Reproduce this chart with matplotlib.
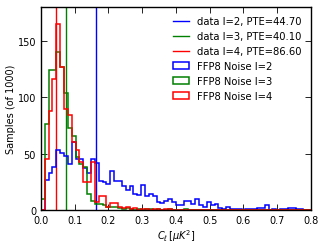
import numpy as np
import matplotlib
matplotlib.use("Agg")
import matplotlib.pyplot as plt

bin_edges = np.linspace(0.0, 0.8, 71)

counts_l2 = [0, 27, 33, 38, 53, 51, 48, 41, 60, 45, 45, 37, 33, 45, 42, 26, 25, 23, 35, 26,
             26, 21, 18, 21, 14, 13, 22, 12, 14, 12, 7, 6, 8, 10, 7, 4, 4, 8, 8, 5,
             10, 4, 3, 7, 4, 5, 2, 1, 3, 1, 1, 1, 0, 1, 1, 1, 2, 2, 4, 0,
             1, 0, 1, 1, 2, 2, 1, 1, 0, 0]
counts_l3 = [10, 76, 124, 124, 140, 127, 104, 73, 66, 47, 41, 38, 14, 8, 5, 5, 4, 3, 3, 3,
             2, 1, 2, 1, 0, 1, 0, 1, 1, 0, 1, 0, 0, 1, 0, 0, 0, 1, 0, 0,
             0, 0, 0, 0, 0, 0, 0, 0, 0, 0, 0, 0, 0, 0, 0, 0, 0, 0, 0, 0,
             0, 0, 0, 0, 0, 0, 0, 0, 0, 0]
counts_l4 = [0, 45, 88, 116, 165, 127, 90, 84, 60, 53, 43, 25, 25, 43, 7, 12, 12, 3, 6, 6,
             3, 2, 3, 1, 2, 0, 1, 1, 0, 1, 1, 0, 1, 1, 0, 0, 0, 0, 0, 0,
             0, 0, 0, 0, 0, 0, 0, 0, 0, 0, 0, 0, 0, 0, 0, 0, 0, 0, 0, 0,
             0, 0, 0, 0, 0, 0, 0, 0, 0, 0]

data_values = [0.164, 0.075, 0.0435]
pte_values = [44.70, 40.10, 86.60]
multipoles = [2, 3, 4]
colors = ['b', 'g', 'r']

fig = plt.figure(figsize=(3.27, 2.53), dpi=100)
ax = fig.add_axes([0.125, 0.166, 0.826, 0.802])

for ell, val, pte, c in zip(multipoles, data_values, pte_values, colors):
    ax.axvline(val, color=c, lw=1.0, label='data l=%d, PTE=%.2f' % (ell, pte))

centers = 0.5 * (bin_edges[:-1] + bin_edges[1:])
for ell, cnt, c in zip(multipoles, [counts_l2, counts_l3, counts_l4], colors):
    ax.hist(centers, bins=bin_edges, weights=cnt, histtype='step', color=c, lw=1.1,
            label='FFP8 Noise l=%d' % ell)

ax.set_xlim(0, 0.8)
ax.set_ylim(0, 180)
ax.set_xticks(np.arange(0, 0.81, 0.1))
ax.set_xticklabels(['%.1f' % v for v in np.arange(0, 0.81, 0.1)])
ax.set_yticks([0, 50, 100, 150])
ax.tick_params(direction='in', top=True, right=True, labelsize=7, length=4, width=0.6)
for s in ax.spines.values():
    s.set_linewidth(1.0)
ax.set_xlabel(r'$C_\ell\,[\mu K^2]$', fontsize=7, labelpad=2)
ax.set_ylabel('Samples (of 1000)', fontsize=7, labelpad=1)
ax.legend(loc='upper right', fontsize=7.2, frameon=False, handlelength=1.6,
          labelspacing=0.5, borderaxespad=0.5, handletextpad=0.8,
          bbox_to_anchor=(1.0, 1.0))

fig.savefig('out.png', dpi=100)
